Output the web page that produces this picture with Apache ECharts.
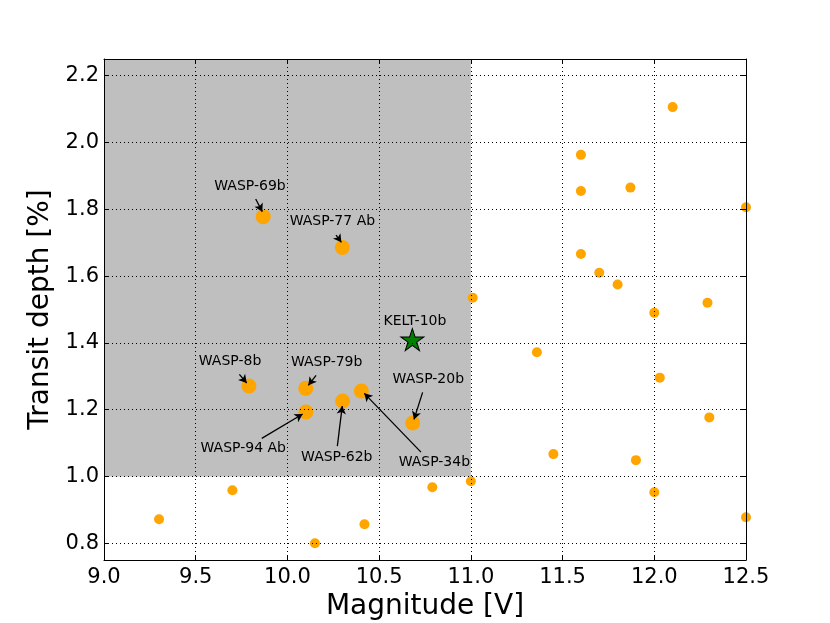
<!DOCTYPE html>
<html>
<head>
<meta charset="utf-8">
<script src="https://cdn.jsdelivr.net/npm/echarts@6/dist/echarts.min.js"></script>
<style>
  html, body { margin: 0; padding: 0; background: #fff; }
  #chart { width: 830px; height: 623px; }
</style>
</head>
<body>
<div id="chart"></div>
<script>
// other known planets (small dots)
const otherMag   = [9.30, 9.70, 10.15, 10.42, 10.79, 11.00, 11.01, 11.36, 11.45, 11.60, 11.60, 11.60, 11.70, 11.80, 11.87, 11.90, 12.00, 12.00, 12.03, 12.10, 12.29, 12.30, 12.50, 12.50];
const otherDepth = [0.872, 0.959, 0.80, 0.857, 0.968, 0.986, 1.535, 1.372, 1.067, 1.963, 1.855, 1.666, 1.610, 1.575, 1.865, 1.049, 1.490, 0.953, 1.296, 2.106, 1.520, 1.177, 1.806, 0.878];

// labelled planets (big dots)
const planetNames = ['WASP-69b', 'WASP-77 Ab', 'WASP-8b', 'WASP-79b', 'WASP-94 Ab', 'WASP-62b', 'WASP-34b', 'WASP-20b'];
const planetMag   = [9.868, 10.299, 9.790, 10.100, 10.101, 10.301, 10.403, 10.683];
const planetDepth = [1.778, 1.686, 1.271, 1.264, 1.193, 1.226, 1.256, 1.160];

// label text centres (data units)
const labelMag   = [9.796, 10.245, 9.687, 10.214, 9.759, 10.269, 10.801, 10.768];
const labelDepth = [1.868, 1.763, 1.345, 1.342, 1.084, 1.058, 1.043, 1.291];

// arrow tails / heads (data units)
const arrowFromMag   = [9.827, 10.265, 9.738, 10.156, 9.860, 10.272, 10.728, 10.737];
const arrowFromDepth = [1.831, 1.723, 1.306, 1.303, 1.114, 1.091, 1.073, 1.252];
const arrowToMag     = [9.863, 10.294, 9.778, 10.114, 10.083, 10.299, 10.419, 10.690];
const arrowToDepth   = [1.793, 1.701, 1.280, 1.273, 1.187, 1.211, 1.249, 1.171];

// KELT-10b
const keltName = 'KELT-10b';
const keltMag = 10.681;
const keltDepth = 1.410;
const keltLabelMag = 10.695;
const keltLabelDepth = 1.463;

// shaded region
const boxMag = [9.0, 11.0];
const boxDepth = [1.0, 2.25];

const xTicks = [9.0, 9.5, 10.0, 10.5, 11.0, 11.5, 12.0, 12.5];
const yTicks = [0.8, 1.0, 1.2, 1.4, 1.6, 1.8, 2.0, 2.2];

const FONT = 'DejaVu Sans';
const STAR = 'path://M50,0 L61.8,35.3 L100,35.3 L69.1,57.1 L80.9,92.7 L50,70.6 L19.1,92.7 L30.9,57.1 L0,35.3 L38.2,35.3 Z';

const chart = echarts.init(document.getElementById('chart'));

const tickStyle = { show: true, inside: true, length: 5, lineStyle: { color: '#000' } };
const xBase = {
  type: 'value', min: 9.0, max: 12.5, interval: 0.5, z: 3,
  axisLine: { show: true, onZero: false, lineStyle: { color: '#000', width: 1 } },
  axisTick: tickStyle
};
const yBase = {
  type: 'value', min: 0.75, max: 2.25, z: 3,
  axisLine: { show: true, onZero: false, lineStyle: { color: '#000', width: 1 } },
  axisTick: Object.assign({ customValues: yTicks }, tickStyle)
};

const option = {
  animation: false,
  backgroundColor: '#fff',
  grid: { left: 104, right: 84, top: 59, bottom: 63, outerBoundsMode: 'none' },
  xAxis: [
    Object.assign({}, xBase, {
      position: 'bottom',
      name: 'Magnitude [V]', nameLocation: 'middle', nameGap: 31,
      nameTextStyle: { fontFamily: FONT, fontSize: 28, color: '#000' },
      axisLabel: { fontFamily: FONT, fontSize: 21, color: '#000', margin: 7,
        formatter: v => v.toFixed(1) },
      splitLine: { show: true, lineStyle: { color: '#000', type: [1, 3], width: 1 } }
    }),
    Object.assign({}, xBase, {
      position: 'top', axisLabel: { show: false }, splitLine: { show: false }
    })
  ],
  yAxis: [
    Object.assign({}, yBase, {
      position: 'left',
      name: 'Transit depth [%]', nameLocation: 'middle', nameGap: 46,
      nameTextStyle: { fontFamily: FONT, fontSize: 28, color: '#000' },
      axisLabel: { fontFamily: FONT, fontSize: 21, color: '#000', margin: 5,
        customValues: yTicks, formatter: v => v.toFixed(1) },
      splitLine: { show: true, lineStyle: { color: '#000', type: [1, 3], width: 1 } }
    }),
    Object.assign({}, yBase, {
      position: 'right', axisLabel: { show: false }, splitLine: { show: false }
    })
  ],
  series: [
    {
      // grey box
      type: 'scatter', data: [], z: 1, silent: true,
      markArea: {
        silent: true,
        itemStyle: { color: '#bfbfbf', opacity: 1 },
        data: [[{ coord: [boxMag[0], boxDepth[0]] }, { coord: [boxMag[1], boxDepth[1]] }]]
      }
    },
    {
      type: 'scatter', z: 2, symbolSize: 10,
      itemStyle: { color: '#ffa500', opacity: 1 },
      data: otherMag.map((m, i) => [m, otherDepth[i]])
    },
    {
      type: 'scatter', z: 2, symbolSize: 15,
      itemStyle: { color: '#ffa500', opacity: 1 },
      data: planetMag.map((m, i) => [m, planetDepth[i]]),
      markLine: {
        silent: true,
        symbol: ['none', 'arrow'],
        symbolSize: [7, 8],
        label: { show: false },
        lineStyle: { color: '#000', width: 1.3, type: 'solid', opacity: 1 },
        data: arrowFromMag.map((m, i) => [
          { coord: [m, arrowFromDepth[i]] },
          { coord: [arrowToMag[i], arrowToDepth[i]] }
        ])
      }
    },
    {
      type: 'scatter', z: 2, symbol: STAR, symbolSize: [23, 22],
      itemStyle: { color: '#008000', borderColor: '#000', borderWidth: 1, opacity: 1 },
      data: [[keltMag, keltDepth]]
    },
    {
      // annotation texts
      type: 'scatter', z: 4, symbolSize: 0, silent: true,
      itemStyle: { opacity: 1 },
      label: {
        show: true, position: 'inside', color: '#000',
        fontFamily: FONT, fontSize: 14,
        formatter: p => p.value[2]
      },
      data: labelMag.map((m, i) => [m, labelDepth[i], planetNames[i]])
        .concat([[keltLabelMag, keltLabelDepth, keltName]])
    }
  ]
};

chart.setOption(option);
</script>
</body>
</html>
